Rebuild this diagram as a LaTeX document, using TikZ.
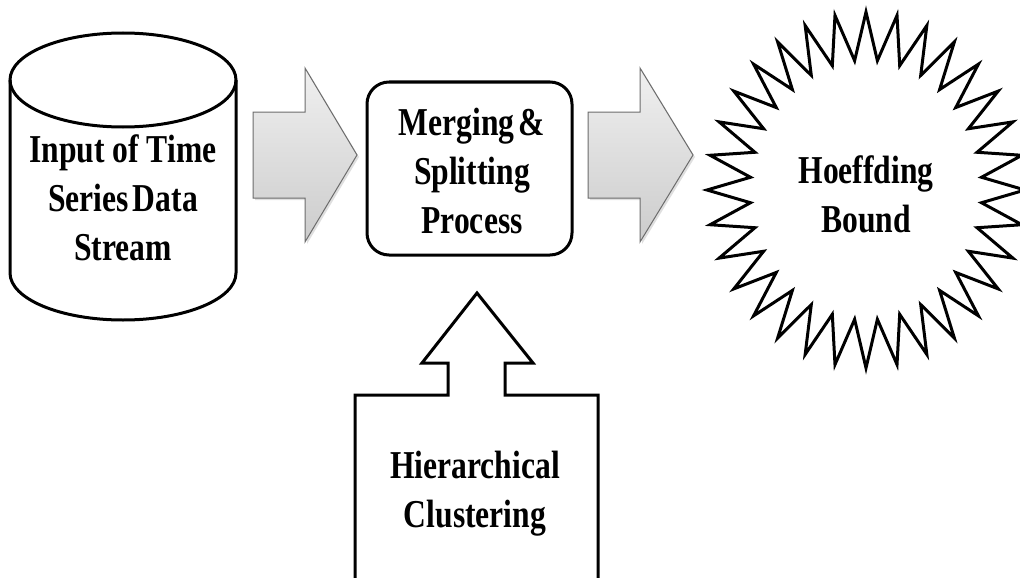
\documentclass[tikz,border=0pt]{standalone}
\usepackage{fontspec}
\newfontfamily\lbl[FakeStretch=0.8]{Liberation Serif}
\usetikzlibrary{shadows}
\begin{document}
\begin{tikzpicture}[x=1pt,y=-1pt,
  txt/.style={font={\lbl\bfseries\fontsize{39.5pt}{49pt}\selectfont}, align=center, inner sep=0pt},
  outline/.style={line width=3pt, line join=round, draw=black},
  grayarrow/.style={draw=gray!85!black, line width=1pt, line join=miter, top color=gray!12, bottom color=gray!40,
    drop shadow={opacity=0.25, shadow xshift=2pt, shadow yshift=-2pt}},
  procbox/.style={outline, rounded corners=22pt, minimum width=205pt, minimum height=173pt, inner sep=0pt}]
\useasboundingbox (0,0) rectangle (1020,578);
\clip (0,0) rectangle (1020,578);
\fill[white] (0,0) rectangle (1020,578);

% cylinder
\draw[outline] (10,80) -- (10,273) arc[start angle=180, end angle=0, x radius=113, y radius=47] -- (236,80);
\draw[outline] (123,80) ellipse[x radius=113, y radius=47];
\node[txt] (input) at (123,198) {Input of Time\\Series\hspace{4pt}Data\\Stream};

% gray arrows
\path[grayarrow] (253,112) -- (305,112) -- (305,68) -- (357,155) -- (305,242) -- (305,198) -- (253,198) -- cycle;
\path[grayarrow] (588,112) -- (640,112) -- (640,68) -- (693,155) -- (640,242) -- (640,198) -- (588,198) -- cycle;

% process box
\node[procbox] (merge) at (469.5,168.5) {};
\node[txt] (mergetxt) at (472,171) {Merging\hspace{4pt}\&\\Splitting\\Process};

% starburst
\draw[outline, line join=miter, fill=white] plot[variable=\t, samples at={0,...,63}]
  ({866+159*(0.865+0.135*cos(180*\t))*cos(90+5.625*\t)},
   {190-178*(0.865+0.135*cos(180*\t))*sin(90+5.625*\t)}) -- cycle;
\node[txt] (hoeff) at (866,194) {Hoeffding\\Bound};

% hierarchical clustering block arrow
\draw[outline, line join=miter] (355,590) -- (355,395) -- (448,395) -- (448,363) -- (422,363) -- (477,293)
  -- (533,363) -- (505,363) -- (505,395) -- (598,395) -- (598,590);
\node[txt] (hier) at (475,493.5) {Hierarchical\\Clustering};
\end{tikzpicture}
\end{document}
